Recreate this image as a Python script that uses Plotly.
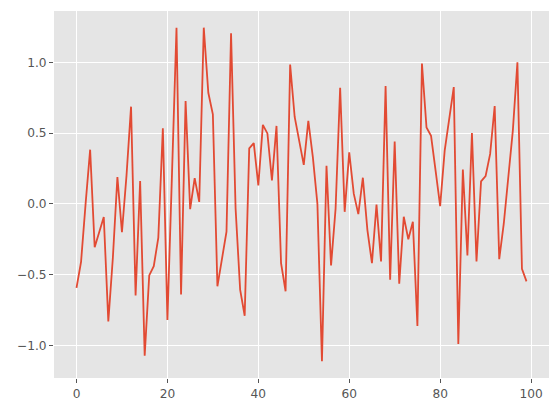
import plotly.graph_objects as go

x_vals = list(range(100))
y_vals = [
    -0.593, -0.41, 0.0, 0.383, -0.306, -0.2, -0.093, -0.83, -0.38, 0.189,
    -0.2, 0.2, 0.687, -0.647, 0.161, -1.072, -0.505, -0.44, -0.238, 0.535,
    -0.82, 0.2, 1.245, -0.64, 0.727, -0.037, 0.182, 0.014, 1.245, 0.785,
    0.633, -0.582, -0.388, -0.196, 1.205, -0.033, -0.605, -0.79, 0.392, 0.43,
    0.131, 0.558, 0.498, 0.166, 0.551, -0.418, -0.617, 0.984, 0.614, 0.446,
    0.276, 0.586, 0.33, 0.0, -1.112, 0.269, -0.435, -0.033, 0.82, -0.056,
    0.364, 0.072, -0.072, 0.185, -0.185, -0.418, -0.005, -0.407, 0.832, -0.535,
    0.44, -0.563, -0.091, -0.25, -0.126, -0.862, 0.991, 0.54, 0.481, 0.236,
    -0.016, 0.376, 0.61, 0.825, -0.99, 0.243, -0.364, 0.5, -0.407, 0.159,
    0.196, 0.353, 0.692, -0.39, -0.14, 0.18, 0.52, 1.0, -0.458, -0.547,
]

x_ticks = [0, 20, 40, 60, 80, 100]
y_ticks = [-1.0, -0.5, 0.0, 0.5, 1.0]

xmin, xmax = min(x_vals), max(x_vals)
ymin, ymax = min(y_vals), max(y_vals)
xpad = (xmax - xmin) * 0.05
ypad = (ymax - ymin) * 0.05

fig = go.Figure()
fig.add_trace(go.Scatter(
    x=x_vals, y=y_vals, mode="lines",
    line=dict(color="#E24A33", width=1.8),
    showlegend=False,
))

axis_common = dict(
    showgrid=True, gridcolor="white", gridwidth=1,
    zeroline=False, showline=False, automargin=False,
    ticks="outside", ticklen=4, tickwidth=1, tickcolor="#555555",
    tickfont=dict(family="DejaVu Sans", size=12.2, color="#555555"),
)

# page body adds an 8px offset; figure sized to fill the remaining window
fig.update_layout(
    width=551, height=405,
    margin=dict(l=46, r=10, t=3, b=35),
    paper_bgcolor="white",
    plot_bgcolor="#E5E5E5",
    xaxis=dict(range=[xmin - xpad, xmax + xpad], tickvals=x_ticks,
               ticktext=[str(v) for v in x_ticks], **axis_common),
    yaxis=dict(range=[ymin - ypad, ymax + ypad], tickvals=y_ticks,
               tickformat=".1f", **axis_common),
)

fig.write_html("out.html")
